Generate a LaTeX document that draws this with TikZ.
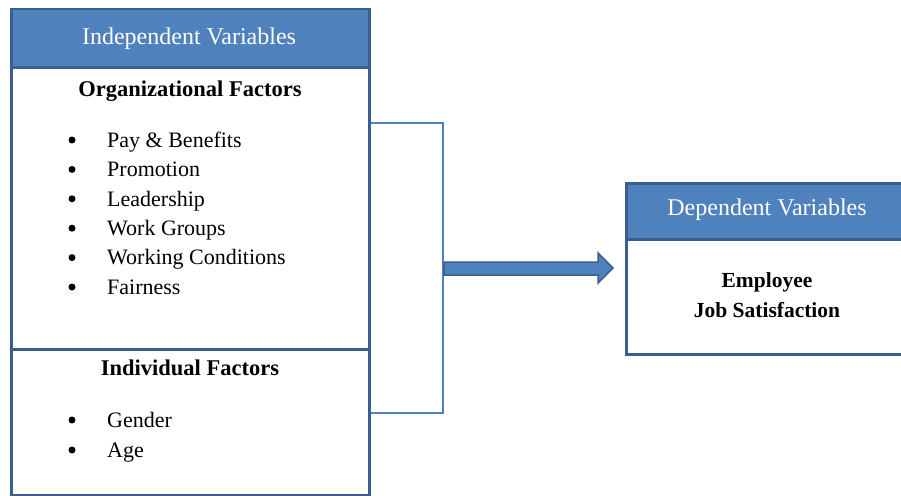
\documentclass[tikz,border=0pt]{standalone}
\usepackage{fontspec}
\setmainfont{Liberation Serif}
\definecolor{hdrblue}{HTML}{4F81BD}
\definecolor{darkblue}{HTML}{3A5F8E}
\begin{document}
\begin{tikzpicture}[x=1pt,y=-1pt,
  hdr/.style={draw=darkblue, line width=2.5pt, fill=hdrblue, inner sep=0pt, anchor=north west},
  panel/.style={draw=darkblue, line width=2.5pt, fill=white, inner sep=0pt, anchor=north west},
  hdrtext/.style={text=white, font=\fontsize{24}{28}\selectfont, anchor=mid, inner sep=0pt},
  subhead/.style={font=\bfseries\fontsize{22.5}{27}\selectfont, anchor=mid, inner sep=0pt},
  item/.style={font=\fontsize{22}{26}\selectfont, anchor=mid west, inner sep=0pt},
  bul/.style={circle, fill=black, inner sep=0pt, minimum size=7pt},
  dvtext/.style={font=\bfseries\fontsize{21.5}{26}\selectfont, anchor=mid, inner sep=0pt},
  bracket/.style={draw=hdrblue, line width=2.5pt},
  bigarrow/.style={draw=darkblue, line width=1.5pt, fill=hdrblue, line join=miter}
]
\useasboundingbox (0,0) rectangle (901,495);
\fill[white] (0,0) rectangle (901,495);

% left box
\node[panel, minimum width=358pt, minimum height=282pt] (org) at (10,66) {};
\node[panel, minimum width=358pt, minimum height=146pt] (ind) at (10,348) {};
\node[hdr, minimum width=358pt, minimum height=58pt] (ihdr) at (10,8) {};
\node[hdrtext] (ihdrt) at (189,42) {Independent Variables};

\node[subhead] (orgt) at (190,94) {Organizational Factors};
\foreach \t [count=\i from 0] in {Pay \& Benefits, Promotion, Leadership, Work Groups, Working Conditions, Fairness}{
  \node[bul] (ob\i) at (72,{140+29.4*\i}) {};
  \node[item] (oi\i) at (107,{145+29.4*\i}) {\t};
}
\node[subhead] (indt) at (190,373) {Individual Factors};
\foreach \t [count=\i from 0] in {Gender, Age}{
  \node[bul] (ib\i) at (72,{420+30*\i}) {};
  \node[item] (ii\i) at (107,{425+30*\i}) {\t};
}

% bracket
\coordinate (b1) at (org.east |- 0,123);
\coordinate (b2) at (443,123);
\coordinate (b3) at (443,413);
\coordinate (b4) at (ind.east |- 0,413);
\draw[bracket] (b1) -- (b2) -- (b3) -- (b4);

% right box
\node[panel, minimum width=282pt, minimum height=115pt] (dv) at (625,238) {};
\node[hdr, minimum width=282pt, minimum height=56pt] (dhdr) at (625,182) {};
\node[hdrtext] (dhdrt) at (767,213) {Dependent Variables};
\node[dvtext] (emp) at (767,285) {Employee};
\node[dvtext] (job) at (767,315) {Job Satisfaction};

% arrow
\draw[bigarrow] (444,262) -- (598,262) -- (598,253) -- (613,268) -- (598,283) -- (598,275) -- (444,275) -- cycle;
\end{tikzpicture}
\end{document}
